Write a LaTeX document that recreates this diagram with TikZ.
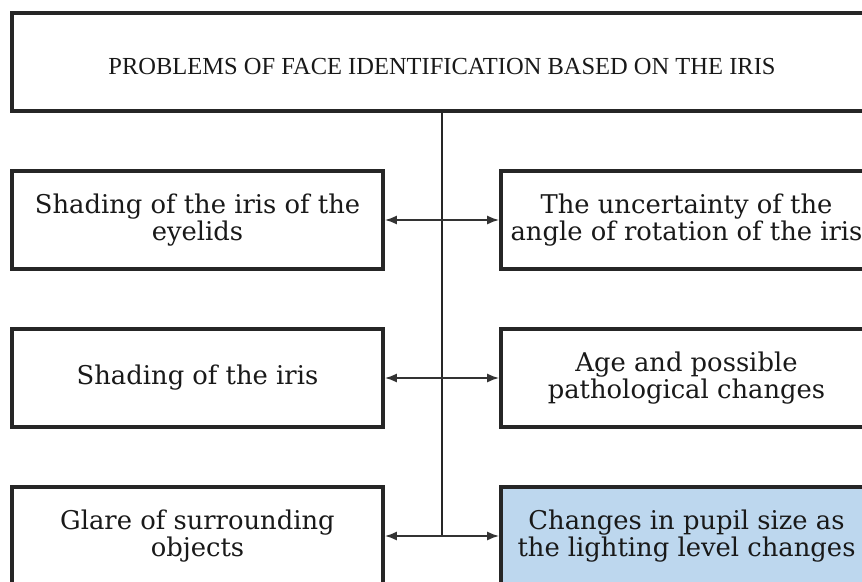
\documentclass[tikz,border=0pt]{standalone}
\usepackage{fontspec}
\setmainfont{Liberation Serif}
\newfontfamily\boxfont{DejaVu Serif}
\usetikzlibrary{arrows.meta, positioning}
\definecolor{boxblue}{RGB}{189,215,238}

\begin{document}
\begin{tikzpicture}[x=1pt, y=-1pt,
    headbox/.style={draw=black!85, line width=3.6pt, minimum width=860pt, minimum height=98pt,
        inner sep=0pt, font=\fontsize{24.5}{28}\selectfont, text=black!90},
    itembox/.style={draw=black!85, line width=3.6pt, minimum width=371pt, minimum height=98pt,
        inner sep=0pt, align=center, font=\boxfont\fontsize{25.8}{27}\selectfont, text=black!90},
    link/.style={line width=2pt, black!80, {Latex[length=12pt,width=9pt]}-{Latex[length=12pt,width=9pt]}}]
    \path[use as bounding box, clip] (0,0) rectangle (862,581);
    \fill[white] (0,0) rectangle (862,581);

    % header
    \node[headbox] (head) at (442,62) {\rule{0pt}{26pt}PROBLEMS OF FACE IDENTIFICATION BASED ON THE IRIS};

    % left column
    \node[itembox] (l1) at (197.5,220) {Shading of the iris of the\\eyelids};
    \node[itembox] (l2) at (197.5,378) {Shading of the iris};
    \node[itembox] (l3) at (197.5,536) {Glare of surrounding\\objects};

    % right column
    \node[itembox] (r1) at (686.5,220) {The uncertainty of the\\angle of rotation of the iris};
    \node[itembox] (r2) at (686.5,378) {Age and possible\\pathological changes};
    \node[itembox, fill=boxblue] (r3) at (686.5,536) {Changes in pupil size as\\the lighting level changes};

    % trunk and branches
    \coordinate (trunk) at (442,536);
    \draw[line width=2.4pt, black!85] (head.south) -- (trunk);
    \draw[link] (l1.east) -- (r1.west);
    \draw[link] (l2.east) -- (r2.west);
    \draw[link] (l3.east) -- (r3.west);
\end{tikzpicture}
\end{document}
